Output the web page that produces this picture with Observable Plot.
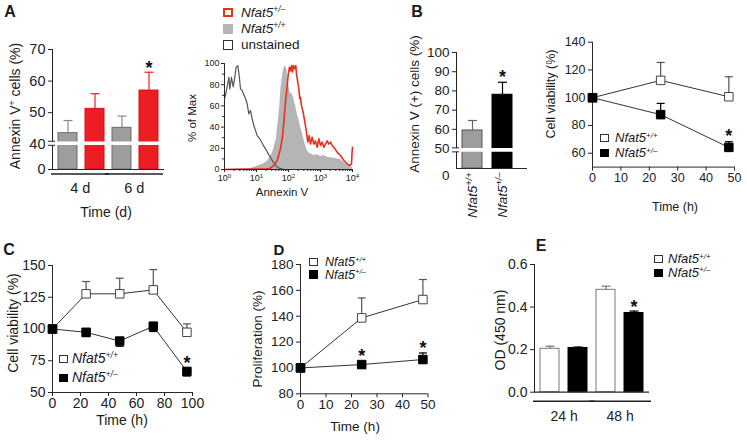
<!DOCTYPE html>
<html><head><meta charset="utf-8">
<script src="https://cdn.jsdelivr.net/npm/d3@7"></script>
<script src="https://cdn.jsdelivr.net/npm/@observablehq/plot@0.6"></script>
<style>
body{margin:0;background:#fff;}
#fig{position:relative;width:747px;height:440px;overflow:hidden;background:#fff;font-family:"Liberation Sans",Arial,Helvetica,sans-serif;color:#1a1a1a;}
#fig svg{position:absolute;color:#222;}
.lbl{position:absolute;white-space:nowrap;line-height:1;}
.lbl sup{font-size:0.62em;vertical-align:baseline;position:relative;top:-0.55em;line-height:0;}
.lbl.tight{line-height:0.82;}
</style></head><body><div id="fig"></div><script>
// ================= DATA =================
// Panel A: Annexin V+ cells (broken axis)
const aGroups = ["4 d", "6 d"];
const aSlots = ["4d-wt", "4d-het", "6d-wt", "6d-het"];
const aSlotGroup = ["4 d", "4 d", "6 d", "6 d"];
const aSlotGeno = ["wt", "het", "wt", "het"];
const aValues = [43.5, 51.2, 45.2, 57.0];
const aErrors = [4.0, 4.8, 3.7, 5.8];
const aSignificant = [false, false, false, true];
const aTicks = [40, 50, 60, 70];
const aFloor = 32;     // axis value where the "0" of the broken axis sits
const aBreak = 40.3;

// Panel A histogram (% of Max vs Annexin V)
const histTicks = [1, 10, 100, 1000, 10000];
const histYTicks = [0, 20, 40, 60, 80, 100];
const histYMinor = [10, 30, 50, 70, 90];
const histUnstained = [[1,67],[1.07,70],[1.21,78],[1.37,87],[1.47,76],[1.65,87],[1.87,78],[2.05,85],[2.31,96.5],[2.61,98],[2.87,89],[3.16,76],[3.56,74.5],[4.53,67],[5.11,62],[5.76,52.5],[6.49,55.7],[7.32,47.8],[8.25,41.5],[9.31,36.8],[10.5,32],[12.7,29],[15,25],[16.9,22],[20.5,18],[24.3,13.8],[27.4,11.6],[32.4,7.5],[39.2,3.8],[49.9,1.3],[71.5,0]];
const histWT = [[1,0],[6.5,1],[10.5,3],[16.9,5.5],[21.5,7.5],[24.3,10],[30.9,15],[34.8,19.5],[39.2,26],[42.2,29],[44.2,38],[47.6,44],[49.9,51],[53.6,60],[56.2,70],[59,78],[63.4,85.5],[68.1,92],[71.5,95],[80.6,98],[90.9,93],[102,80],[115,72],[130,71],[147,66.7],[166,60],[187,52.5],[210,47.8],[237,40],[267,35],[301,29],[340,22.6],[383,18],[432,15.5],[487,14.8],[619,13.2],[787,13.8],[1000,12.3],[1271,13.2],[1616,11.6],[2610,10.7],[4217,9.4],[6040,5.3],[7675,3.8],[10000,2]];
const histHet = [[1,0],[20,0.5],[27.4,1.3],[34.8,3.8],[44.2,8.5],[56.2,19.5],[63.4,29],[71.5,44.6],[80.6,63.5],[90.9,79],[97.6,88.7],[107,96.5],[115,93],[124,98],[133,92],[143,98],[154,95],[169,98],[178,90],[196,82],[210,76],[226,66.7],[237,68],[255,60],[287,54],[324,44.6],[365,35],[402,25.8],[442,32],[487,24],[549,30.5],[619,24],[698,27],[787,21],[887,29],[1000,22.6],[1127,25.8],[1271,21],[1432,24],[1616,27],[1820,24],[2054,25.8],[2316,22.6],[2610,21],[3318,16.4],[4217,13.2],[5360,8.5],[6813,5.3],[8254,3.8],[9300,5.3],[9700,16],[10000,21]];

// Panel B: Annexin V (+) cells
const bSlots = ["Nfat5^{+/+}", "Nfat5^{+/–}"];
const bSlotGeno = ["wt", "het"];
const bValues = [59.4, 78.0];
const bErrors = [5.2, 6.5];
const bSignificant = [false, true];
const bTicks = [50, 60, 70, 80, 90, 100];
const bFloor = 39.6;
const bBreak = 49.3;

// Panel B right: cell viability, 0-48 h
const b2Times = [0, 24, 48];
const b2WT = [100, 112.5, 100.7];
const b2WTErr = [0, 12.9, 14.4];
const b2Het = [100, 87.8, 64.2];
const b2HetErr = [0, 8.1, 4.1];
const b2HetSig = [false, false, true];
const b2XTicks = [0, 10, 20, 30, 40, 50];
const b2YTicks = [60, 80, 100, 120, 140];

// Panel C: cell viability, 0-96 h
const cTimes = [0, 24, 48, 72, 96];
const cWT = [100, 127.7, 127.7, 130.8, 97.4];
const cWTErr = [0, 9.7, 12.3, 16, 6.6];
const cHet = [100, 97.4, 90.5, 102.2, 66.6];
const cHetErr = [0, 3.4, 4.1, 4.2, 3.6];
const cHetSig = [false, false, false, false, true];
const cXTicks = [0, 20, 40, 60, 80, 100];
const cYTicks = [50, 75, 100, 125, 150];

// Panel D: proliferation
const dTimes = [0, 24, 48];
const dWT = [100, 138.7, 152.9];
const dWTErr = [0, 15.4, 15.5];
const dHet = [100, 102.6, 106.5];
const dHetErr = [0, 0, 5.1];
const dHetSig = [false, true, true];
const dXTicks = [0, 10, 20, 30, 40, 50];
const dYTicks = [80, 100, 120, 140, 160, 180];

// Panel E: OD (450 nm)
const eGroups = ["24 h", "48 h"];
const eSlots = ["24-wt", "24-het", "48-wt", "48-het"];
const eSlotGroup = ["24 h", "24 h", "48 h", "48 h"];
const eSlotGeno = ["wt", "het", "wt", "het"];
const eValues = [0.204, 0.208, 0.481, 0.372];
const eErrors = [0.012, 0.004, 0.017, 0.009];
const eSignificant = [false, false, false, true];
const eTicks = [0, 0.2, 0.4, 0.6];

// ================= DRAWING =================
const FONT = '"Liberation Sans", Arial, Helvetica, sans-serif';
const AX = "#2a2a2a";
const fig = document.getElementById("fig");
const SVGNS = "http://www.w3.org/2000/svg";
const WT = "<i>Nfat5<sup>+/+</sup></i>";
const HET = "<i>Nfat5<sup>+/–</sup></i>";
const capSymbol = {draw(ctx, size) { const w = Math.sqrt(size / Math.PI); ctx.moveTo(-w, 0); ctx.lineTo(w, 0); }};

function markup(svg) {
  svg.querySelectorAll("text").forEach(t => {
    const s = t.textContent;
    if (s.startsWith("Nfat5")) t.setAttribute("font-style", "italic");
    if (!s.includes("^{")) return;
    t.textContent = "";
    s.split(/(\^\{[^}]*\})/).forEach(p => {
      if (!p) return;
      const ts = document.createElementNS(SVGNS, "tspan");
      if (p.startsWith("^{")) { ts.textContent = p.slice(2, -1); ts.setAttribute("baseline-shift", "super"); ts.setAttribute("font-size", "68%"); }
      else ts.textContent = p;
      t.appendChild(ts);
    });
  });
}
function place(svg, left, top) { svg.style.left = left + "px"; svg.style.top = top + "px"; fig.appendChild(svg); markup(svg); }
function styleFor(fs) { return {fontFamily: FONT, fontSize: fs + "px", background: "transparent", overflow: "visible"}; }

function addText(html, x, y, {size = 14, rotate = false, anchor = "middle", weight = "normal", tight = false} = {}) {
  const d = document.createElement("div");
  d.className = "lbl" + (tight ? " tight" : "");
  d.innerHTML = html;
  d.style.left = x + "px"; d.style.top = y + "px";
  d.style.fontSize = size + "px"; d.style.fontWeight = weight;
  d.style.transform = `translate(${anchor === "start" ? "0" : "-50%"}, -50%)` + (rotate ? " rotate(-90deg)" : "");
  fig.appendChild(d);
}
const SQ = {
  open: "background:#fff;border:1.2px solid #333;",
  filled: "background:#000;",
  redOpen: "background:#fff;border:2.6px solid #e8301e;",
  gray: "background:#b5b5b5;",
  blackOpen: "background:#fff;border:1.2px solid #333;"
};
function addLegend(x, y, kind, html, {size = 14, sq = 9, textX} = {}) {
  const s = document.createElement("div");
  s.style.cssText = `position:absolute;left:${x}px;top:${y - sq / 2}px;width:${sq}px;height:${sq}px;box-sizing:border-box;` + SQ[kind];
  fig.appendChild(s);
  addText(html, textX, y, {size, anchor: "start", tight: true});
}

function barChart(c) {
  const fw = c.W - c.ml - c.mr;
  const pO = c.pO ?? 0;
  const span = c.xRange ? c.xRange[1] - c.xRange[0] : fw;
  const step = span / (c.slots.length - c.pI + 2 * pO);
  const rows = c.slots.map((s, i) => ({slot: s, geno: c.geno[i], group: c.group ? c.group[i] : null, v: c.values[i], e: c.errors[i], sig: c.sig[i]}));
  const xOpt = {type: "band", domain: c.slots, paddingInner: c.pI, paddingOuter: pO, axis: c.xAxis ? "bottom" : null, label: null};
  if (c.xRange) xOpt.range = c.xRange;
  if (c.xAxis) Object.assign(xOpt, c.xAxis);
  const marks = [];
  for (const g of Object.keys(c.styles)) {
    const st = c.styles[g];
    const sub = rows.filter(d => d.geno === g);
    marks.push(
      Plot.ruleX(sub, {x: "slot", y1: "v", y2: d => d.v + d.e, stroke: st.err, strokeWidth: 1.2}),
      Plot.dot(sub, {x: "slot", y: d => d.v + d.e, symbol: capSymbol, r: c.capR ?? 4.5, stroke: st.err, strokeWidth: 1.2, fill: "none"}),
      Plot.barY(sub, {x: "slot", y1: () => c.floor, y2: "v", fill: st.fill, stroke: st.stroke, strokeWidth: 1})
    );
  }
  marks.push(Plot.ruleY([c.floor], {stroke: AX, strokeWidth: 1.2}));
  if (c.breakAt != null) {
    marks.push(
      Plot.ruleY([c.breakAt], {stroke: "white", strokeWidth: 3.6, insetLeft: -7}),
      Plot.ruleY([c.breakAt], {dy: -2, stroke: AX, strokeWidth: 1, insetLeft: -4, insetRight: fw - 3}),
      Plot.ruleY([c.breakAt], {dy: 2, stroke: AX, strokeWidth: 1, insetLeft: -4, insetRight: fw - 3})
    );
  }
  if (c.zeroLabel) {
    marks.push(Plot.text([c.floor], {y: d => d, text: () => "0", frameAnchor: "left", textAnchor: "end", dx: -7, dy: c.zeroDy, fontSize: c.fontSize}));
  }
  if (c.groups) {
    const grows = c.groups.map(g => { const s = rows.filter(d => d.group === g); return {label: g, first: s[0].slot, last: s[s.length - 1].slot}; });
    marks.push(
      Plot.ruleY(grows, {x1: "first", x2: "last", y: () => c.floor, dy: c.lineDy, insetLeft: c.lineInsets[0], insetRight: c.lineInsets[1], stroke: "#222", strokeWidth: 1.6}),
      Plot.text(grows, {x: "first", y: () => c.floor, text: "label", dx: step / 2 + (c.groupDx ?? 0), dy: c.groupDy, fontSize: c.fontSize})
    );
  }
  marks.push(Plot.text(rows.filter(d => d.sig), {x: "slot", y: d => d.v + d.e, text: () => "*", dy: c.starDy, fontSize: 18, fontWeight: "bold", fill: "#111"}));
  const svg = Plot.plot({
    width: c.W, height: c.H, marginLeft: c.ml, marginRight: c.mr, marginTop: c.mt, marginBottom: c.mb,
    style: styleFor(c.fontSize),
    x: xOpt,
    y: {domain: c.yDomain, ticks: c.yTicks, tickFormat: c.tickFormat, tickSize: 4, tickPadding: 3, line: true, label: null},
    marks
  });
  place(svg, c.left, c.top);
}

function linePanel(c) {
  const marks = [Plot.ruleX([c.xDomain[0]], {stroke: AX}), Plot.ruleY([c.yDomain[0]], {stroke: AX})];
  const all = [];
  for (const s of c.series) {
    const rows = s.t.map((t, i) => ({t, v: s.v[i], e: s.e[i], sig: s.sig ? s.sig[i] : false, dir: s.dir}));
    const withErr = rows.filter(d => d.e > 0);
    const end = d => d.v + d.dir * d.e;
    marks.push(
      Plot.line(rows, {x: "t", y: "v", stroke: "#333", strokeWidth: 1}),
      Plot.ruleX(withErr, {x: "t", y1: "v", y2: end, stroke: s.errColor, strokeWidth: 1.2}),
      Plot.dot(withErr, {x: "t", y: end, symbol: capSymbol, r: 4, stroke: s.errColor, strokeWidth: 1.2, fill: "none"})
    );
    all.push({s, rows});
  }
  for (const {s, rows} of all) {
    marks.push(Plot.dot(rows, {x: "t", y: "v", symbol: "square", r: 4.8, fill: s.open ? "white" : "black", stroke: s.open ? "#444" : "black", strokeWidth: 1}));
    const sig = rows.filter(d => d.sig);
    marks.push(
      Plot.text(sig.filter(d => d.dir > 0 && d.e > 0), {x: "t", y: d => d.v + d.e, text: () => "*", dy: -5, fontSize: 18, fontWeight: "bold", fill: "#111"}),
      Plot.text(sig.filter(d => !(d.dir > 0 && d.e > 0)), {x: "t", y: "v", text: () => "*", dy: -8.5, fontSize: 18, fontWeight: "bold", fill: "#111"})
    );
  }
  const svg = Plot.plot({
    width: c.W, height: c.H, marginLeft: c.ml, marginRight: c.mr, marginTop: c.mt, marginBottom: c.mb,
    style: styleFor(c.fontSize),
    x: {domain: c.xDomain, ticks: c.xTicks, tickSize: 4, tickPadding: 2, label: null},
    y: {domain: c.yDomain, ticks: c.yTicks, tickSize: 4, tickPadding: 3, label: null},
    marks
  });
  place(svg, c.left, c.top);
}

// ---- Panel A bars
barChart({left: 0, top: 0, W: 180, H: 230, ml: 52, mr: 16, mt: 49, mb: 61, fontSize: 14.5,
  slots: aSlots, geno: aSlotGeno, group: aSlotGroup, values: aValues, errors: aErrors, sig: aSignificant,
  pI: 0.31, pO: 0.19, yDomain: [aFloor, 70], yTicks: [aFloor, ...aTicks], tickFormat: d => d === aFloor ? "0" : String(d),
  floor: aFloor, breakAt: aBreak, groups: aGroups, groupDx: -1.5, groupDy: 19, lineDy: 4.5, lineInsets: [-7, -5], starDy: -4.5,
  styles: {wt: {fill: "#9d9d9d", stroke: "#6a6a6a", err: "#8a8a8a"}, het: {fill: "#ee1d23", stroke: "#d51018", err: "#ee1d23"}}});
addText("A", 10, 12, {size: 16, weight: "bold"});
addText("Annexin V<sup>+</sup> cells (%)", 15, 106, {size: 14, rotate: true});
addText("Time (d)", 106, 212, {size: 14});

// ---- Panel A histogram
{
  const fw = 175 - 34 - 13, fh = 150 - 13 - 31;
  const xMinor = d3.range(0, 4).flatMap(k => d3.range(2, 10).map(m => m * 10 ** k));
  const svg = Plot.plot({
    width: 175, height: 150, marginLeft: 34, marginRight: 13, marginTop: 13, marginBottom: 31,
    style: styleFor(9),
    x: {type: "log", domain: [1, 10000], ticks: histTicks, tickFormat: d => `10^{${Math.round(Math.log10(d))}}`, tickSize: 3, tickPadding: 2, label: null},
    y: {domain: [0, 100], ticks: histYTicks, tickSize: 3, tickPadding: 2, label: null},
    marks: [
      Plot.areaY(histWT, {x: d => d[0], y: d => d[1], fill: "#b5b5b5"}),
      Plot.line(histUnstained, {x: d => d[0], y: d => d[1], stroke: "#555", strokeWidth: 1.2}),
      Plot.line(histHet, {x: d => d[0], y: d => d[1], stroke: "#e8301e", strokeWidth: 1.6}),
      Plot.ruleX([1], {stroke: AX}),
      Plot.ruleY([0], {stroke: AX}),
      Plot.ruleX(xMinor, {x: d => d, insetTop: fh, insetBottom: -2, stroke: AX}),
      Plot.ruleY(histYMinor, {y: d => d, insetLeft: -2, insetRight: fw, stroke: AX})
    ]
  });
  place(svg, 190, 50);
}
addText("% of Max", 193, 118, {size: 11.5, rotate: true});
addText("Annexin V", 282, 193, {size: 11.5});
addLegend(223, 12.5, "redOpen", HET, {size: 13.5, sq: 9.5, textX: 241});
addLegend(223, 29, "gray", WT, {size: 13.5, sq: 9.5, textX: 241});
addLegend(223, 45, "blackOpen", "unstained", {size: 13.5, sq: 9.5, textX: 241});

// ---- Panel B bars
barChart({left: 400, top: 0, W: 130, H: 240, ml: 56, mr: 3, mt: 52, mb: 72, fontSize: 13.5,
  slots: bSlots, geno: bSlotGeno, values: bValues, errors: bErrors, sig: bSignificant,
  pI: 0.327, pO: 0, xRange: [61, 112.2], xAxis: {tickRotate: -90, tickSize: 0, tickPadding: 4},
  yDomain: [bFloor, 100], yTicks: bTicks, floor: bFloor, zeroLabel: true, zeroDy: 7, breakAt: bBreak, starDy: -5.5,
  styles: {wt: {fill: "#9d9d9d", stroke: "#555", err: "#666"}, het: {fill: "#000", stroke: "#000", err: "#000"}}});
addText("B", 417, 12, {size: 16, weight: "bold"});
addText("Annexin V (+) cells (%)", 415, 104, {size: 13.5, rotate: true});

// ---- Panel B line chart
linePanel({left: 555, top: 25, W: 192, H: 195, ml: 37, mr: 13, mt: 16.7, mb: 53.4, fontSize: 12.5,
  xDomain: [0, 50], xTicks: b2XTicks, yDomain: [50, 140], yTicks: b2YTicks,
  series: [{t: b2Times, v: b2WT, e: b2WTErr, dir: 1, open: true, errColor: "#555"},
           {t: b2Times, v: b2Het, e: b2HetErr, dir: 1, open: false, errColor: "#000", sig: b2HetSig}]});
addText("Cell viability (%)", 551, 94, {size: 12.5, rotate: true});
addText("Time (h)", 675, 207, {size: 12.5});
addLegend(600, 138, "open", WT, {size: 13, sq: 8.5, textX: 615});
addLegend(600, 153, "filled", HET, {size: 13, sq: 8.5, textX: 615});

// ---- Panel C
linePanel({left: 20, top: 245, W: 185, H: 195, ml: 32, mr: 13, mt: 20, mb: 48, fontSize: 14,
  xDomain: [0, 100], xTicks: cXTicks, yDomain: [50, 150], yTicks: cYTicks,
  series: [{t: cTimes, v: cWT, e: cWTErr, dir: 1, open: true, errColor: "#555"},
           {t: cTimes, v: cHet, e: cHetErr, dir: -1, open: false, errColor: "#000", sig: cHetSig}]});
addText("C", 9, 250, {size: 16, weight: "bold"});
addText("Cell viability (%)", 13, 323, {size: 14, rotate: true});
addText("Time (h)", 122, 420, {size: 14});
addLegend(59, 359, "open", WT, {size: 14, sq: 8.5, textX: 72});
addLegend(59, 378, "filled", HET, {size: 14, sq: 8.5, textX: 72});

// ---- Panel D
linePanel({left: 245, top: 245, W: 195, H: 195, ml: 55, mr: 12.5, mt: 19, mb: 46.7, fontSize: 13.5,
  xDomain: [0, 50], xTicks: dXTicks, yDomain: [80, 180], yTicks: dYTicks,
  series: [{t: dTimes, v: dWT, e: dWTErr, dir: 1, open: true, errColor: "#555"},
           {t: dTimes, v: dHet, e: dHetErr, dir: 1, open: false, errColor: "#000", sig: dHetSig}]});
addText("D", 279, 249, {size: 15, weight: "bold"});
addText("Proliferation (%)", 258, 339, {size: 13.5, rotate: true});
addText("Time (h)", 355, 427, {size: 13.5});
addLegend(309, 262, "open", WT, {size: 12.5, sq: 8.5, textX: 325});
addLegend(309, 274.5, "filled", HET, {size: 12.5, sq: 8.5, textX: 325});

// ---- Panel E
barChart({left: 495, top: 245, W: 165, H: 195, ml: 39, mr: 11, mt: 19, mb: 48.3, fontSize: 14,
  slots: eSlots, geno: eSlotGeno, group: eSlotGroup, values: eValues, errors: eErrors, sig: eSignificant,
  pI: 0.324, pO: 0.2085, yDomain: [0, 0.6], yTicks: eTicks, tickFormat: d3.format(".1f"),
  floor: 0, groups: eGroups, groupDx: 0, groupDy: 24, lineDy: 9, lineInsets: [-7, -8], starDy: -3.5, capR: 4.5,
  styles: {wt: {fill: "#fff", stroke: "#777", err: "#777"}, het: {fill: "#000", stroke: "#000", err: "#000"}}});
addText("E", 541, 246, {size: 16, weight: "bold"});
addText("OD (450 nm)", 500, 330, {size: 14, rotate: true});
addLegend(654, 259, "open", WT, {size: 13, sq: 8.5, textX: 668});
addLegend(654, 272.8, "filled", HET, {size: 13, sq: 8.5, textX: 668});
</script></body></html>
